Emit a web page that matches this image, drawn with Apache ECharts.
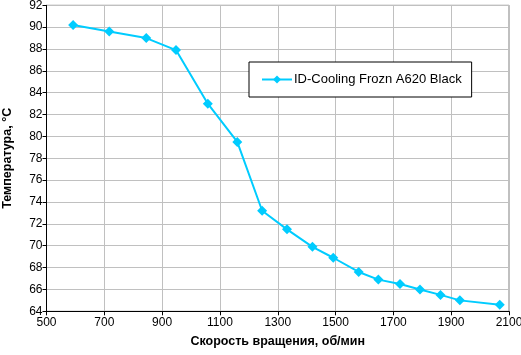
<!DOCTYPE html>
<html><head><meta charset="utf-8">
<script src="https://cdn.jsdelivr.net/npm/echarts@6/dist/echarts.min.js"></script>
<style>html,body{margin:0;padding:0;background:#fff}#c{width:521px;height:355px}</style>
</head><body><div id="c"></div>
<script>
const seriesName = 'ID-Cooling Frozn A620 Black';
const rpm = [592, 717, 845, 948, 1058, 1160, 1246, 1332, 1420, 1492, 1580, 1648, 1723, 1792, 1863, 1930, 2068];
const temp = [90.2, 89.6, 89.0, 87.9, 83.0, 79.5, 73.2, 71.5, 69.9, 68.9, 67.6, 66.9, 66.5, 66.0, 65.5, 65.0, 64.6];
const xTitle = 'Скорость вращения, об/мин';
const yTitle = 'Температура, °C';

const chart = echarts.init(document.getElementById('c'), null, {renderer: 'canvas'});
const font = 'Liberation Sans, Arial, sans-serif';
chart.setOption({
  animation: false,
  backgroundColor: '#fff',
  grid: {left: 46.5, right: 12, top: 5.3, bottom: 43.7, show: true, borderColor: '#808080', borderWidth: 1,
         containLabel: false, outerBoundsMode: 'none'},
  legend: {
    show: true, left: 249, top: 62, width: 222, height: 38,
    padding: [11, 10, 11, 12],
    borderColor: '#000', borderWidth: 1, borderRadius: 0, backgroundColor: '#fff',
    itemWidth: 30, itemHeight: 10, itemGap: 2,
    textStyle: {fontFamily: font, fontSize: 13, color: '#000', padding: [0, 0, 0, -3]},
    data: [seriesName]
  },
  xAxis: {
    type: 'value', min: 500, max: 2100, interval: 200,
    name: xTitle, nameLocation: 'middle', nameGap: 24,
    nameTextStyle: {fontFamily: font, fontSize: 12.5, fontWeight: 'bold', color: '#000'},
    axisLine: {lineStyle: {color: '#000', width: 1}},
    axisTick: {show: true, length: 4, inside: false, lineStyle: {color: '#000'}},
    axisLabel: {fontFamily: font, fontSize: 12, color: '#000', margin: 5, formatter: v => String(v)},
    splitLine: {show: true, lineStyle: {color: '#c0c0c0', width: 1}}
  },
  yAxis: {
    type: 'value', min: 64, max: 92, interval: 2,
    name: yTitle, nameLocation: 'middle', nameGap: 32, nameRotate: 90,
    nameTextStyle: {fontFamily: font, fontSize: 12.5, fontWeight: 'bold', color: '#000'},
    axisLine: {show: true, lineStyle: {color: '#000', width: 1}},
    axisTick: {show: true, length: 4, inside: false, lineStyle: {color: '#000'}},
    axisLabel: {fontFamily: font, fontSize: 12, color: '#000', margin: 4},
    splitLine: {show: true, lineStyle: {color: '#c0c0c0', width: 1}}
  },
  series: [{
    name: seriesName, type: 'line',
    data: rpm.map((x, i) => [x, temp[i]]),
    symbol: 'diamond', symbolSize: 10,
    lineStyle: {color: '#00ccff', width: 2},
    itemStyle: {color: '#00ccff'}
  }]
});
</script></body></html>
